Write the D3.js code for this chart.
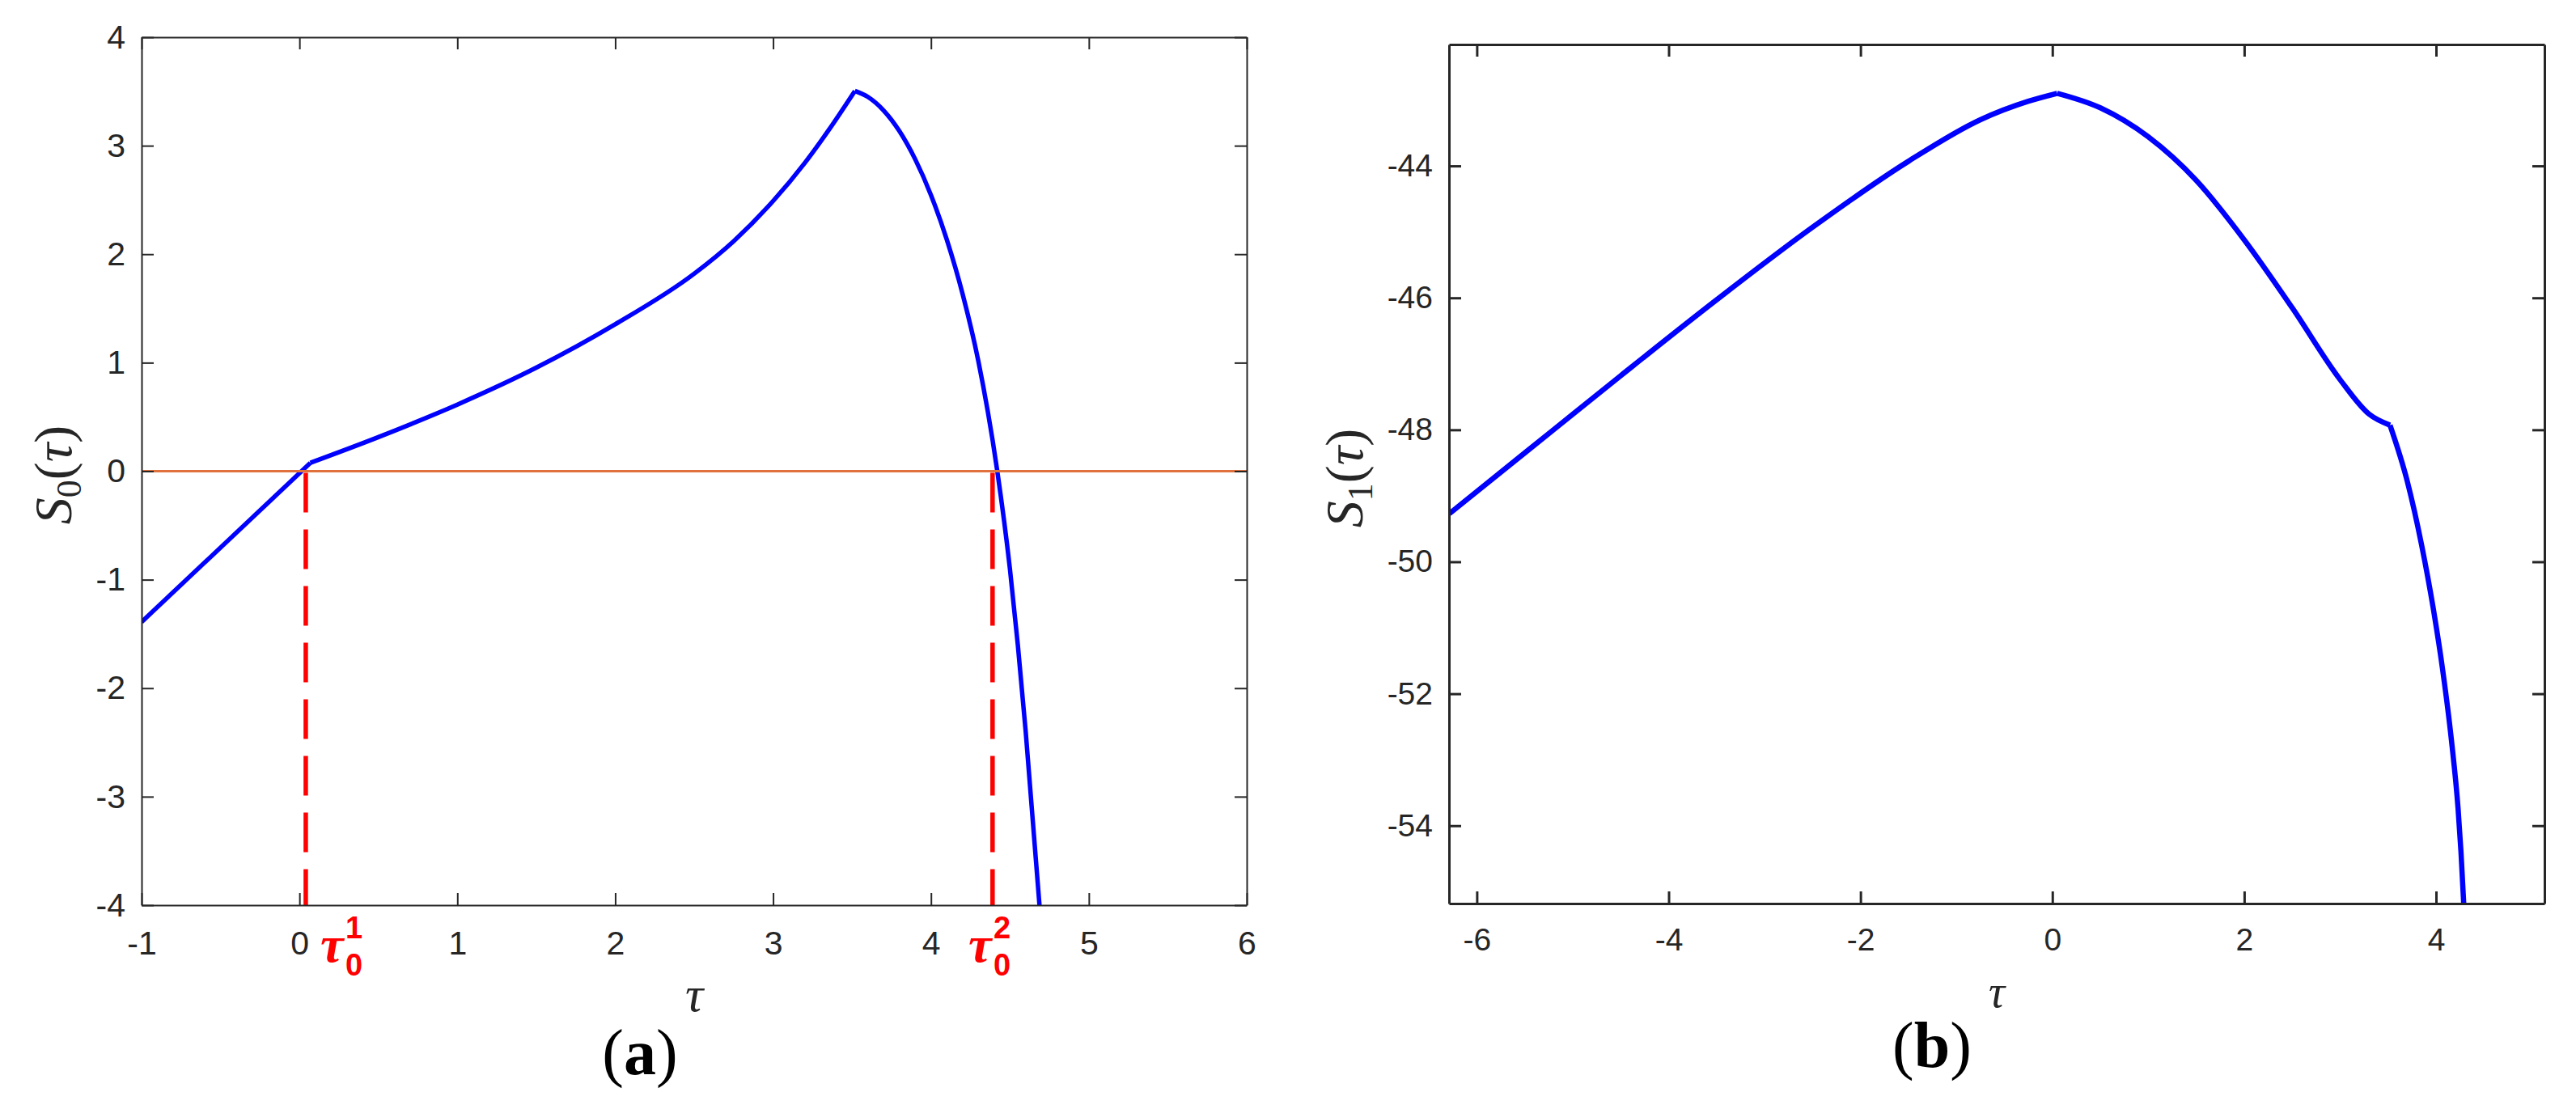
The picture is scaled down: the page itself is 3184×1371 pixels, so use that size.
<!DOCTYPE html>
<html>
<head>
<meta charset="utf-8">
<script src="https://cdn.jsdelivr.net/npm/d3@7"></script>
<style>
  body { margin: 0; background: #fff; }
  svg { display: block; }
  .tick text { font-family: "Liberation Sans", Arial, sans-serif; fill: #262626; }
</style>
</head>
<body>
<svg id="chart"></svg>
<script>
// panel (a): S0(tau), three pieces split at the kinks
const tauA1 = [-1, 0.069];
const s0A1 = [-1.39, 0.077];
const tauA2 = [0.069, 0.5, 1.0, 1.5, 2.0, 2.5, 2.75, 3.0, 3.2, 3.35, 3.518];
const s0A2 = [0.077, 0.314, 0.614, 0.954, 1.354, 1.82, 2.12, 2.49, 2.84, 3.14, 3.505];
const tauA3 = [3.518, 3.6, 3.7, 3.8, 3.9, 4.0, 4.1, 4.2, 4.3, 4.42, 4.5, 4.55, 4.6, 4.69];
const s0A3 = [3.505, 3.45, 3.325, 3.135, 2.875, 2.545, 2.135, 1.635, 1.015, 0.0, -0.9, -1.6, -2.4, -4.05];

// roots marked with red dashed lines
const roots = [0.04, 4.39];
const rootSup = ["1", "2"];

// panel (b): S1(tau)
const tauB1 = [-6.285, -5.5, -4.5, -3.5, -2.5, -1.5, -0.75, -0.25, 0.05];
const s1B1 = [-49.27, -48.35, -47.18, -46.03, -44.93, -43.93, -43.3, -43.02, -42.9];
const tauB2 = [0.05, 0.5, 1.0, 1.5, 2.0, 2.5, 3.0, 3.3, 3.52];
const s1B2 = [-42.9, -43.12, -43.56, -44.22, -45.12, -46.15, -47.24, -47.76, -47.93];
const tauB3 = [3.52, 3.7, 3.85, 3.97, 4.07, 4.16, 4.23, 4.26, 4.3];
const s1B3 = [-47.93, -48.78, -49.75, -50.7, -51.65, -52.7, -53.75, -54.4, -55.5];

const xTicksA = [-1, 0, 1, 2, 3, 4, 5, 6];
const yTicksA = [-4, -3, -2, -1, 0, 1, 2, 3, 4];
const xTicksB = [-6, -4, -2, 0, 2, 4];
const yTicksB = [-54, -52, -50, -48, -46, -44];

const W = 3184, H = 1371;
const boxA = { left: 175, right: 1541, top: 46, bottom: 1119 };
const boxB = { left: 1791, right: 3145, top: 55, bottom: 1117 };
const axisColor = "#262626";

const svg = d3.select("#chart").attr("width", W).attr("height", H);
svg.append("rect").attr("width", W).attr("height", H).attr("fill", "#fff");

const fmt = (d) => String(d);

function drawAxes(box, x, y, xTicks, yTicks, strokeW, padX, padY, fontSize) {
  const g = svg.append("g");
  g.append("g")
    .attr("transform", `translate(0,${box.bottom})`)
    .call(d3.axisBottom(x).tickValues(xTicks).tickFormat(fmt).tickSizeInner(-15).tickSizeOuter(0).tickPadding(padX));
  g.append("g")
    .attr("transform", `translate(0,${box.top})`)
    .call(d3.axisTop(x).tickValues(xTicks).tickFormat("").tickSizeInner(-15).tickSizeOuter(0));
  g.append("g")
    .attr("transform", `translate(${box.left},0)`)
    .call(d3.axisLeft(y).tickValues(yTicks).tickFormat(fmt).tickSizeInner(-15).tickSizeOuter(0).tickPadding(padY));
  g.append("g")
    .attr("transform", `translate(${box.right},0)`)
    .call(d3.axisRight(y).tickValues(yTicks).tickFormat("").tickSizeInner(-15).tickSizeOuter(0));
  g.selectAll(".domain").attr("stroke", axisColor).attr("stroke-width", strokeW);
  g.selectAll(".tick line").attr("stroke", axisColor).attr("stroke-width", strokeW);
  g.selectAll(".tick text").attr("font-size", fontSize);
  return g;
}

function addClip(id, box) {
  svg.append("clipPath").attr("id", id)
    .append("rect")
    .attr("x", box.left).attr("y", box.top)
    .attr("width", box.right - box.left).attr("height", box.bottom - box.top);
}

function drawPiece(xs, ys, x, y, clip, width) {
  const pts = xs.map((t, i) => [t, ys[i]]);
  svg.append("path")
    .datum(pts)
    .attr("clip-path", `url(#${clip})`)
    .attr("fill", "none")
    .attr("stroke", "#0000ff")
    .attr("stroke-width", width)
    .attr("stroke-linejoin", "round")
    .attr("d", d3.line().x((d) => x(d[0])).y((d) => y(d[1])).curve(d3.curveMonotoneX));
}

function yLabel(cx, cy, sub) {
  const t = svg.append("text")
    .attr("transform", `translate(${cx},${cy}) rotate(-90)`)
    .attr("text-anchor", "middle")
    .attr("font-family", "'Liberation Serif', serif")
    .attr("font-size", 66)
    .attr("fill", axisColor);
  t.append("tspan").attr("font-style", "italic").text("S");
  t.append("tspan").attr("font-size", 44).attr("dy", 12).text(sub);
  t.append("tspan").attr("dy", -12).text("(");
  t.append("tspan").attr("font-style", "italic").text("\u03C4");
  t.append("tspan").text(")");
}

function panelTag(cx, baseline, letter) {
  const t = svg.append("text")
    .attr("x", cx).attr("y", baseline)
    .attr("text-anchor", "middle")
    .attr("font-family", "'Liberation Serif', 'Times New Roman', serif")
    .attr("font-size", 80)
    .attr("fill", "#000");
  t.append("tspan").text("(");
  t.append("tspan").attr("font-weight", "bold").text(letter);
  t.append("tspan").text(")");
}

// ---- panel (a)
const xA = d3.scaleLinear().domain([-1, 6]).range([boxA.left, boxA.right]);
const yA = d3.scaleLinear().domain([-4, 4]).range([boxA.bottom, boxA.top]);
addClip("clipA", boxA);

drawPiece(tauA1, s0A1, xA, yA, "clipA", 5.5);
drawPiece(tauA2, s0A2, xA, yA, "clipA", 5.5);
drawPiece(tauA3, s0A3, xA, yA, "clipA", 5.5);

svg.append("line")
  .attr("x1", xA(-1)).attr("x2", xA(6))
  .attr("y1", yA(0)).attr("y2", yA(0))
  .attr("stroke", "#e0703c")
  .attr("stroke-width", 3);

svg.selectAll(".root")
  .data(roots)
  .join("line")
  .attr("class", "root")
  .attr("x1", (d) => xA(d)).attr("x2", (d) => xA(d))
  .attr("y1", yA(0) + 2).attr("y2", yA(-4))
  .attr("stroke", "#ff0000")
  .attr("stroke-width", 5.5)
  .attr("stroke-dasharray", "49 21");

drawAxes(boxA, xA, yA, xTicksA, yTicksA, 2, 32, 20, 41);

// red tau_0^k labels under the roots
const rootLabelX = [396, 1197];
roots.forEach((r, i) => {
  const lx = rootLabelX[i];
  svg.append("text")
    .attr("x", lx).attr("y", 1189)
    .attr("font-family", "'Liberation Serif', serif")
    .attr("font-style", "italic").attr("font-weight", "bold")
    .attr("font-size", 64).attr("fill", "#ff0000")
    .text("\u03C4");
  svg.append("text")
    .attr("x", lx + 31).attr("y", 1160)
    .attr("font-family", "'Liberation Sans', sans-serif")
    .attr("font-weight", "bold").attr("font-size", 38).attr("fill", "#ff0000")
    .text(rootSup[i]);
  svg.append("text")
    .attr("x", lx + 31).attr("y", 1206)
    .attr("font-family", "'Liberation Sans', sans-serif")
    .attr("font-weight", "bold").attr("font-size", 38).attr("fill", "#ff0000")
    .text("0");
});

svg.append("text")
  .attr("x", (boxA.left + boxA.right) / 2).attr("y", 1250)
  .attr("text-anchor", "middle")
  .attr("font-family", "'Liberation Serif', serif")
  .attr("font-style", "italic").attr("font-size", 62).attr("fill", axisColor)
  .text("\u03C4");

yLabel(88, 587, "0");
panelTag(791, 1328, "a");

// ---- panel (b)
const xB = d3.scaleLinear().domain([-6.29, 5.13]).range([boxB.left, boxB.right]);
const yB = d3.scaleLinear().domain([-55.18, -42.16]).range([boxB.bottom, boxB.top]);
addClip("clipB", boxB);

drawPiece(tauB1, s1B1, xB, yB, "clipB", 6.5);
drawPiece(tauB2, s1B2, xB, yB, "clipB", 6.5);
drawPiece(tauB3, s1B3, xB, yB, "clipB", 6.5);

drawAxes(boxB, xB, yB, xTicksB, yTicksB, 3, 30, 20, 39);

svg.append("text")
  .attr("x", (boxB.left + boxB.right) / 2).attr("y", 1245)
  .attr("text-anchor", "middle")
  .attr("font-family", "'Liberation Serif', serif")
  .attr("font-style", "italic").attr("font-size", 56).attr("fill", axisColor)
  .text("\u03C4");

yLabel(1684, 591, "1");
panelTag(2388, 1319, "b");
</script>
</body>
</html>
